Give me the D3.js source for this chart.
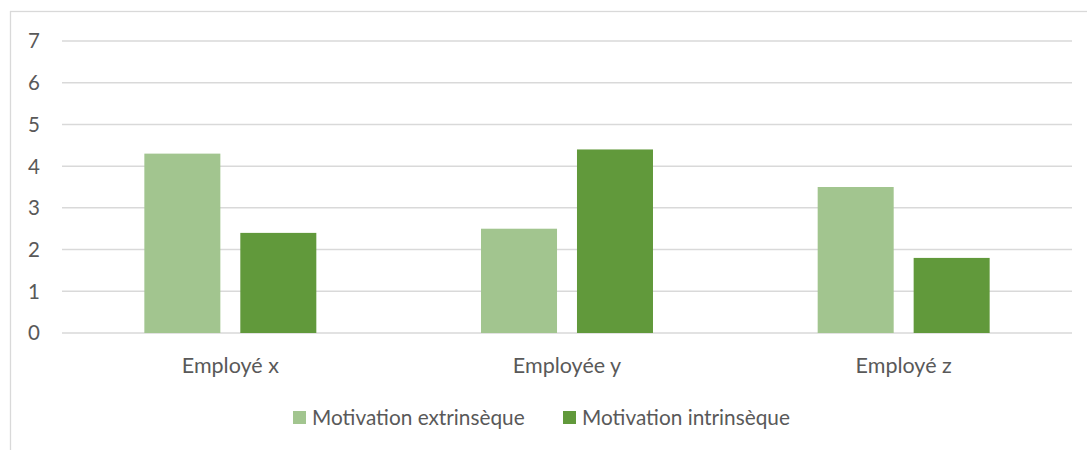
<!DOCTYPE html>
<html>
<head>
<meta charset="utf-8">
<script src="https://cdn.jsdelivr.net/npm/d3@7"></script>
<style>
  body { margin: 0; background: #fff; }
  text { font-family: Lato, "Open Sans", sans-serif; fill: #595959; }
</style>
</head>
<body>
<div id="chart"></div>
<script>
const categories = ["Employé x", "Employée y", "Employé z"];
const seriesNames = ["Motivation extrinsèque", "Motivation intrinsèque"];
const extrinsic = [4.3, 2.5, 3.5];
const intrinsic = [2.4, 4.4, 1.8];
const yTicks = [0, 1, 2, 3, 4, 5, 6, 7];
const colors = ["#A2C58F", "#61993B"];

const width = 1087, height = 450;
const plotLeft = 62, plotRight = 1072, plotTop = 41, plotBottom = 333;

const svg = d3.select("#chart").append("svg")
    .attr("width", width)
    .attr("height", height);

// chart frame
svg.append("rect")
    .attr("x", 10.5).attr("y", 11.5)
    .attr("width", 1100).attr("height", 460)
    .attr("fill", "none")
    .attr("stroke", "#D9D9D9")
    .attr("stroke-width", 1.3);

const y = d3.scaleLinear().domain([0, 7]).range([plotBottom, plotTop]);
const x0 = d3.scaleBand().domain(categories).range([plotLeft, plotRight]);
const x1 = d3.scaleBand().domain(seriesNames)
    .range([0, x0.bandwidth()])
    .paddingInner(0.208)
    .paddingOuter(0.858);

// gridlines
svg.append("g")
    .selectAll("line")
    .data(yTicks)
    .join("line")
    .attr("x1", plotLeft).attr("x2", plotRight)
    .attr("y1", d => y(d)).attr("y2", d => y(d))
    .attr("stroke", "#D9D9D9")
    .attr("stroke-width", 1.5);

// y tick labels
svg.append("g")
    .selectAll("text")
    .data(yTicks)
    .join("text")
    .attr("x", 40)
    .attr("y", d => y(d))
    .attr("dy", "0.36em")
    .attr("text-anchor", "end")
    .style("font-size", "20.5px")
    .text(d => d);

const rows = categories.map((c, i) => ({
    cat: c,
    values: [extrinsic[i], intrinsic[i]]
}));

// bars
svg.append("g")
    .selectAll("g")
    .data(rows)
    .join("g")
    .attr("transform", d => `translate(${x0(d.cat)},0)`)
    .selectAll("rect")
    .data(d => d.values.map((v, j) => ({ name: seriesNames[j], value: v, j })))
    .join("rect")
    .attr("x", d => x1(d.name))
    .attr("width", x1.bandwidth())
    .attr("y", d => y(d.value))
    .attr("height", d => y(0) - y(d.value))
    .attr("fill", d => colors[d.j]);

// category labels
svg.append("g")
    .selectAll("text")
    .data(categories)
    .join("text")
    .attr("x", d => x0(d) + x0.bandwidth() / 2)
    .attr("y", 372.5)
    .attr("text-anchor", "middle")
    .style("font-size", "21.5px")
    .text(d => d);

// legend
const legendX = [293, 563];
const legend = svg.append("g")
    .selectAll("g")
    .data(seriesNames)
    .join("g")
    .attr("transform", (d, i) => `translate(${legendX[i]},411)`);

legend.append("rect")
    .attr("width", 13).attr("height", 13)
    .attr("fill", (d, i) => colors[i]);

legend.append("text")
    .attr("x", 19)
    .attr("y", 6.5)
    .attr("dy", "0.36em")
    .style("font-size", "20.8px")
    .text(d => d);
</script>
</body>
</html>
